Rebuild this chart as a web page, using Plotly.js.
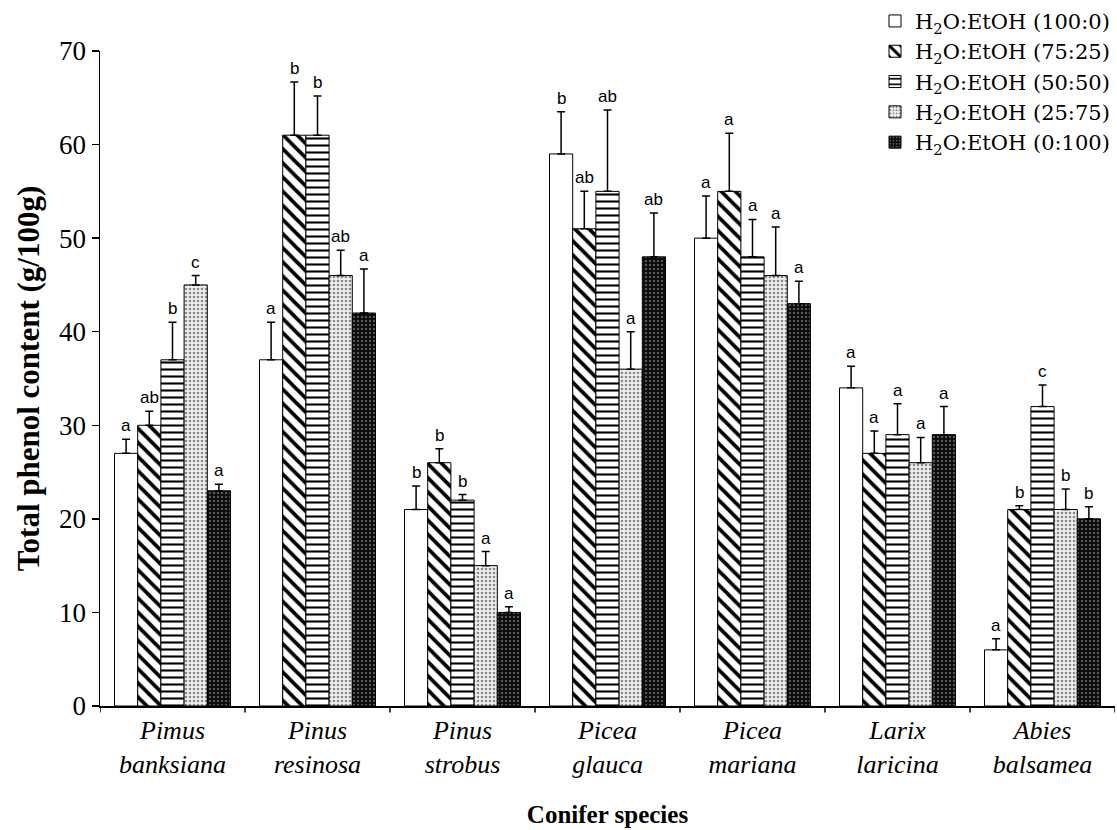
<!DOCTYPE html>
<html>
<head>
<meta charset="utf-8">
<script src="https://cdn.plot.ly/plotly-3.0.1.min.js"></script>
<style>html,body{margin:0;padding:0;background:#fff}#chart{width:1117px;height:830px}</style>
</head>
<body>
<div id="chart"></div>
<script>
const species = ["<i>Pimus</i><br><i>banksiana</i>", "<i>Pinus</i><br><i>resinosa</i>", "<i>Pinus</i><br><i>strobus</i>", "<i>Picea</i><br><i>glauca</i>", "<i>Picea</i><br><i>mariana</i>", "<i>Larix</i><br><i>laricina</i>", "<i>Abies</i><br><i>balsamea</i>"];
const seriesNames = ["H<sub>2</sub>O:EtOH (100:0)", "H<sub>2</sub>O:EtOH (75:25)", "H<sub>2</sub>O:EtOH (50:50)", "H<sub>2</sub>O:EtOH (25:75)", "H<sub>2</sub>O:EtOH (0:100)"];

const v100_0  = [27, 37, 21, 59, 50, 34, 6];
const v75_25  = [30, 61, 26, 51, 55, 27, 21];
const v50_50  = [37, 61, 22, 55, 48, 29, 32];
const v25_75  = [45, 46, 15, 36, 46, 26, 21];
const v0_100  = [23, 42, 10, 48, 43, 29, 20];

const e100_0  = [1.5, 4.0, 2.5, 4.5, 4.5, 2.3, 1.2];
const e75_25  = [1.5, 5.7, 1.5, 4.0, 6.2, 2.4, 0.4];
const e50_50  = [4.0, 4.2, 0.6, 8.7, 4.0, 3.3, 2.3];
const e25_75  = [1.0, 2.7, 1.5, 4.0, 5.2, 2.7, 2.2];
const e0_100  = [0.7, 4.7, 0.6, 4.7, 2.4, 3.0, 1.3];

const l100_0  = ["a", "a", "b", "b", "a", "a", "a"];
const l75_25  = ["ab", "b", "b", "ab", "a", "a", "b"];
const l50_50  = ["b", "b", "b", "ab", "a", "a", "c"];
const l25_75  = ["c", "ab", "a", "a", "a", "a", "b"];
const l0_100  = ["a", "a", "a", "ab", "a", "a", "b"];

const values = [v100_0, v75_25, v50_50, v25_75, v0_100];
const errors = [e100_0, e75_25, e50_50, e25_75, e0_100];
const letters = [l100_0, l75_25, l50_50, l25_75, l0_100];

const SERIF = "Liberation Serif, Times New Roman, serif";

const patterns = [
  {shape: "", bgcolor: "#ffffff"},
  {shape: "\\", bgcolor: "#ffffff", fgcolor: "#000000", size: 10, solidity: 0.38},
  {shape: "-", bgcolor: "#ffffff", fgcolor: "#000000", size: 7, solidity: 0.3},
  {shape: ".", bgcolor: "#f0f0f0", fgcolor: "#8a8a8a", size: 4, solidity: 0.35},
  {shape: ".", bgcolor: "#0a0a0a", fgcolor: "#555555", size: 4, solidity: 0.3}
];

const bargap = 0.2;
const nS = values.length;
const barW = (1 - bargap) / nS;

const traces = values.map((vals, j) => ({
  type: "bar",
  name: seriesNames[j],
  x: species.map((_, i) => i),
  y: vals,
  marker: {color: "#ffffff", pattern: patterns[j], line: {color: "#000000", width: 1}},
  error_y: {type: "data", symmetric: false, array: errors[j], arrayminus: errors[j].map(() => 0), color: "#000000", thickness: 1.5, width: 4}
}));

const annotations = [];
values.forEach((vals, j) => {
  vals.forEach((v, i) => {
    annotations.push({
      x: i + (j - (nS - 1) / 2) * barW,
      y: v + errors[j][i],
      xref: "x", yref: "y",
      text: letters[j][i],
      showarrow: false,
      yanchor: "bottom",
      yshift: 2,
      font: {family: "Liberation Sans, Arial, sans-serif", size: 17, color: "#000"}
    });
  });
});

const layout = {
  width: 1117, height: 830,
  margin: {l: 100, r: 2, t: 50, b: 124},
  paper_bgcolor: "#ffffff", plot_bgcolor: "#ffffff",
  barmode: "group", bargap: bargap, bargroupgap: 0,
  showlegend: true,
  legend: {
    x: 1.0, xanchor: "right", y: 1.075, yanchor: "top",
    bgcolor: "rgba(0,0,0,0)",
    font: {family: "DejaVu Serif, serif", size: 21, color: "#000"},
    itemwidth: 30, tracegroupgap: 0
  },
  xaxis: {
    tickmode: "array",
    tickvals: species.map((_, i) => i),
    ticktext: species,
    range: [-0.5, species.length - 0.5],
    showline: true, linecolor: "#000", linewidth: 1.5,
    ticks: "", showgrid: false, zeroline: false,
    tickfont: {family: SERIF, size: 26, color: "#000"},
    title: {text: "<b>Conifer species</b>", font: {family: SERIF, size: 25, color: "#000"}, standoff: 28}
  },
  yaxis: {
    range: [0, 70], dtick: 10,
    showline: true, linecolor: "#000", linewidth: 1.5,
    ticks: "outside", ticklen: 7, tickwidth: 1.5, tickcolor: "#000",
    showgrid: false, zeroline: false,
    tickfont: {family: SERIF, size: 27, color: "#000"},
    title: {text: "<b>Total phenol content (g/100g)</b>", font: {family: SERIF, size: 31, color: "#000"}, standoff: 10}
  },
  annotations: annotations,
  shapes: species.concat([""]).map((_, i) => ({
    type: "line", xref: "x", yref: "paper",
    x0: i - 0.5, x1: i - 0.5, y0: 0, y1: -0.01,
    line: {color: "#000", width: 1.5}
  }))
};

Plotly.newPlot("chart", traces, layout, {displayModeBar: false, staticPlot: true});
</script>
</body>
</html>
